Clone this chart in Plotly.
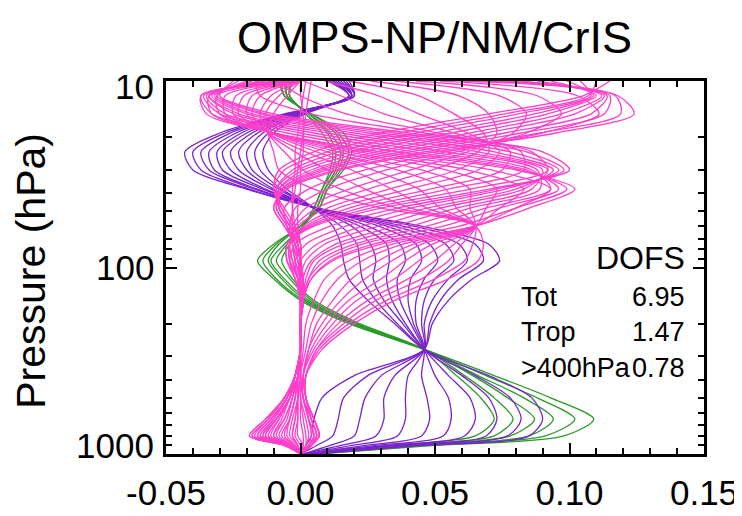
import plotly.graph_objects as go

# ---------------- data ----------------
pressure_hpa = [10, 12, 15, 19, 24, 30, 38, 48, 60, 75, 92, 115, 150, 200, 275, 380, 500, 650, 800, 900, 1000]

# lower-troposphere kernels (green)
green_kernels = [
    [-0.008, -0.006, 0.004, 0.016, 0.019, 0.016, 0.010, 0.007, 0.000, -0.010, -0.016, -0.010, 0.000, 0.018, 0.046, 0.072, 0.093, 0.109, 0.098, 0.050, 0.006],
    [-0.007, -0.006, 0.004, 0.014, 0.018, 0.015, 0.010, 0.007, 0.000, -0.009, -0.014, -0.009, 0.001, 0.019, 0.046, 0.069, 0.088, 0.102, 0.091, 0.047, 0.006],
    [-0.006, -0.005, 0.003, 0.013, 0.016, 0.014, 0.009, 0.006, 0.000, -0.008, -0.012, -0.007, 0.002, 0.020, 0.046, 0.066, 0.083, 0.094, 0.085, 0.043, 0.005],
    [-0.005, -0.005, 0.003, 0.011, 0.015, 0.013, 0.009, 0.006, 0.001, -0.006, -0.011, -0.006, 0.003, 0.020, 0.046, 0.064, 0.077, 0.087, 0.078, 0.040, 0.005],
    [-0.004, -0.004, 0.002, 0.010, 0.013, 0.012, 0.008, 0.005, 0.001, -0.005, -0.009, -0.004, 0.004, 0.021, 0.046, 0.061, 0.072, 0.079, 0.072, 0.036, 0.004],
    [-0.003, -0.004, 0.002, 0.008, 0.012, 0.011, 0.008, 0.005, 0.001, -0.004, -0.007, -0.003, 0.005, 0.022, 0.046, 0.058, 0.067, 0.072, 0.065, 0.033, 0.004],
]

# upper-troposphere kernels (purple)
purple_kernels = [
    [0.010, 0.018, 0.002, -0.010, -0.014, -0.012, -0.005, 0.005, 0.012, 0.015, 0.016, 0.018, 0.025, 0.035, 0.046, 0.070, 0.086, 0.090, 0.085, 0.045, 0.004],
    [0.011, 0.018, 0.001, -0.012, -0.017, -0.015, -0.007, 0.005, 0.015, 0.021, 0.022, 0.023, 0.028, 0.036, 0.046, 0.065, 0.078, 0.082, 0.077, 0.041, 0.004],
    [0.012, 0.018, 0.000, -0.014, -0.020, -0.018, -0.008, 0.005, 0.019, 0.026, 0.028, 0.027, 0.031, 0.038, 0.046, 0.060, 0.070, 0.073, 0.069, 0.036, 0.003],
    [0.012, 0.019, 0.000, -0.016, -0.023, -0.020, -0.010, 0.005, 0.022, 0.032, 0.033, 0.032, 0.034, 0.039, 0.046, 0.055, 0.063, 0.065, 0.061, 0.032, 0.003],
    [0.013, 0.019, -0.001, -0.018, -0.026, -0.023, -0.011, 0.005, 0.025, 0.037, 0.039, 0.036, 0.037, 0.041, 0.046, 0.050, 0.055, 0.056, 0.053, 0.028, 0.002],
    [0.014, 0.019, -0.002, -0.020, -0.029, -0.026, -0.013, 0.006, 0.029, 0.043, 0.045, 0.041, 0.040, 0.042, 0.046, 0.045, 0.047, 0.048, 0.045, 0.024, 0.002],
    [0.015, 0.019, -0.003, -0.022, -0.031, -0.029, -0.014, 0.006, 0.032, 0.048, 0.051, 0.046, 0.043, 0.043, 0.046, 0.040, 0.039, 0.039, 0.036, 0.019, 0.002],
    [0.016, 0.019, -0.004, -0.024, -0.034, -0.032, -0.016, 0.006, 0.035, 0.054, 0.057, 0.050, 0.046, 0.045, 0.046, 0.035, 0.031, 0.031, 0.028, 0.015, 0.001],
    [0.016, 0.020, -0.004, -0.026, -0.037, -0.034, -0.017, 0.006, 0.038, 0.059, 0.062, 0.055, 0.049, 0.046, 0.046, 0.030, 0.024, 0.022, 0.020, 0.011, 0.001],
    [0.017, 0.020, -0.005, -0.028, -0.040, -0.037, -0.019, 0.006, 0.042, 0.065, 0.068, 0.059, 0.052, 0.048, 0.046, 0.025, 0.016, 0.014, 0.012, 0.006, 0.000],
    [0.018, 0.020, -0.006, -0.030, -0.043, -0.040, -0.020, 0.006, 0.045, 0.070, 0.074, 0.064, 0.055, 0.049, 0.046, 0.020, 0.008, 0.005, 0.004, 0.002, 0.000],
]

# stratosphere kernels (pink)
pink_kernels = [
    [0.004, 0.003, 0.002, 0.001, 0.000, -0.001, -0.002, -0.003, -0.003, -0.002, -0.001, 0.000, 0.000, 0.000, 0.000, -0.001, -0.003, -0.006, -0.010, -0.003, 0.000],
    [0.002, 0.001, 0.000, -0.001, -0.002, -0.002, -0.003, -0.003, -0.002, -0.001, 0.000, 0.000, 0.000, 0.000, 0.000, -0.001, -0.002, -0.004, -0.007, -0.002, 0.000],
    [0.000, 0.000, 0.001, 0.001, 0.001, 0.000, 0.000, -0.001, -0.001, 0.000, 0.000, 0.000, 0.000, 0.000, 0.000, 0.000, -0.001, -0.002, -0.003, -0.001, 0.000],
    [0.115, 0.105, 0.070, 0.030, 0.005, -0.008, -0.010, -0.006, -0.002, 0.000, 0.000, 0.000, 0.000, 0.000, 0.000, -0.002, -0.004, -0.008, -0.012, -0.003, 0.000],
    [0.110, 0.107, 0.076, 0.037, 0.010, -0.006, -0.010, -0.007, -0.003, 0.000, 0.000, 0.000, 0.000, 0.000, 0.000, -0.002, -0.004, -0.009, -0.013, -0.004, 0.000],
    [0.104, 0.108, 0.081, 0.043, 0.014, -0.003, -0.009, -0.007, -0.003, 0.000, 0.000, 0.000, 0.000, 0.000, 0.000, -0.002, -0.004, -0.009, -0.013, -0.004, 0.000],
    [0.099, 0.109, 0.087, 0.050, 0.019, -0.001, -0.009, -0.008, -0.004, -0.001, 0.000, 0.000, 0.000, 0.000, 0.000, -0.002, -0.005, -0.010, -0.014, -0.004, 0.000],
    [0.093, 0.110, 0.092, 0.056, 0.023, 0.001, -0.008, -0.008, -0.004, -0.001, 0.000, 0.000, 0.000, 0.000, 0.000, -0.002, -0.005, -0.010, -0.015, -0.004, 0.000],
    [0.088, 0.112, 0.097, 0.063, 0.028, 0.004, -0.008, -0.008, -0.004, -0.001, 0.000, 0.001, 0.001, 0.000, 0.000, -0.002, -0.005, -0.011, -0.016, -0.005, 0.000],
    [0.082, 0.113, 0.102, 0.069, 0.032, 0.006, -0.007, -0.008, -0.004, -0.001, 0.000, 0.001, 0.001, 0.000, 0.000, -0.002, -0.005, -0.011, -0.016, -0.005, 0.000],
    [0.077, 0.114, 0.108, 0.076, 0.037, 0.008, -0.007, -0.009, -0.005, -0.002, 0.000, 0.001, 0.001, 0.000, 0.000, -0.002, -0.006, -0.012, -0.017, -0.005, 0.000],
    [0.071, 0.115, 0.113, 0.082, 0.041, 0.010, -0.006, -0.009, -0.005, -0.002, 0.000, 0.001, 0.001, 0.000, 0.000, -0.002, -0.006, -0.012, -0.018, -0.005, 0.000],
    [0.066, 0.117, 0.119, 0.089, 0.046, 0.013, -0.006, -0.010, -0.006, -0.002, 0.000, 0.001, 0.001, 0.000, 0.000, -0.002, -0.006, -0.013, -0.019, -0.006, 0.000],
    [0.060, 0.118, 0.124, 0.095, 0.050, 0.015, -0.005, -0.010, -0.006, -0.002, 0.000, 0.001, 0.001, 0.000, 0.000, -0.002, -0.006, -0.013, -0.019, -0.006, 0.000],
    [0.052, 0.103, 0.111, 0.090, 0.054, 0.024, 0.003, -0.006, -0.005, -0.003, -0.001, 0.001, 0.001, 0.000, 0.000, -0.002, -0.006, -0.012, -0.018, -0.006, 0.000],
    [0.043, 0.088, 0.097, 0.084, 0.058, 0.032, 0.010, -0.002, -0.004, -0.003, -0.001, 0.000, 0.001, 0.000, 0.000, -0.002, -0.005, -0.011, -0.016, -0.005, 0.000],
    [0.035, 0.074, 0.084, 0.079, 0.062, 0.041, 0.018, 0.002, -0.003, -0.003, -0.002, 0.000, 0.001, 0.000, 0.000, -0.002, -0.005, -0.010, -0.015, -0.005, 0.000],
    [0.026, 0.059, 0.070, 0.073, 0.066, 0.049, 0.025, 0.006, -0.002, -0.003, -0.002, 0.000, 0.001, 0.000, 0.000, -0.002, -0.004, -0.009, -0.014, -0.004, 0.000],
    [0.018, 0.044, 0.057, 0.068, 0.070, 0.058, 0.033, 0.010, -0.001, -0.004, -0.003, -0.001, 0.001, 0.000, 0.000, -0.002, -0.004, -0.009, -0.013, -0.004, 0.000],
    [0.009, 0.029, 0.044, 0.062, 0.074, 0.066, 0.040, 0.014, 0.001, -0.004, -0.003, -0.001, 0.000, 0.000, 0.000, -0.001, -0.004, -0.008, -0.011, -0.004, 0.000],
    [0.001, 0.015, 0.031, 0.057, 0.078, 0.075, 0.048, 0.018, 0.002, -0.004, -0.004, -0.001, 0.000, 0.000, 0.000, -0.001, -0.004, -0.007, -0.010, -0.004, 0.000],
    [-0.008, 0.000, 0.017, 0.051, 0.082, 0.083, 0.055, 0.022, 0.003, -0.004, -0.004, -0.001, 0.000, 0.000, 0.000, -0.001, -0.003, -0.006, -0.009, -0.003, 0.000],
    [-0.017, -0.015, 0.004, 0.046, 0.086, 0.092, 0.063, 0.026, 0.004, -0.005, -0.005, -0.002, 0.000, 0.000, 0.000, -0.001, -0.003, -0.005, -0.008, -0.003, 0.000],
    [-0.025, -0.030, -0.010, 0.040, 0.090, 0.100, 0.070, 0.030, 0.005, -0.005, -0.005, -0.002, 0.000, 0.000, 0.000, -0.001, -0.002, -0.004, -0.006, -0.002, 0.000],
    [-0.023, -0.031, -0.013, 0.035, 0.084, 0.098, 0.073, 0.036, 0.011, -0.002, -0.004, -0.002, 0.000, 0.000, 0.000, -0.001, -0.002, -0.004, -0.005, -0.002, 0.000],
    [-0.020, -0.031, -0.015, 0.030, 0.078, 0.096, 0.076, 0.041, 0.017, 0.002, -0.002, -0.001, 0.000, 0.000, 0.000, -0.001, -0.001, -0.003, -0.004, -0.001, 0.000],
    [-0.018, -0.032, -0.018, 0.025, 0.072, 0.094, 0.080, 0.047, 0.023, 0.006, 0.000, -0.001, 0.000, 0.000, 0.000, -0.001, -0.001, -0.002, -0.003, -0.001, 0.000],
    [-0.015, -0.033, -0.020, 0.020, 0.066, 0.092, 0.083, 0.052, 0.029, 0.009, 0.002, 0.000, 0.000, 0.000, 0.000, -0.001, -0.001, -0.001, -0.002, 0.000, 0.000],
    [-0.013, -0.034, -0.023, 0.015, 0.060, 0.090, 0.086, 0.058, 0.035, 0.013, 0.004, 0.001, 0.001, 0.000, 0.000, -0.001, -0.001, -0.001, -0.001, 0.001, 0.000],
    [-0.010, -0.034, -0.025, 0.010, 0.054, 0.088, 0.089, 0.063, 0.041, 0.016, 0.005, 0.002, 0.001, 0.000, 0.000, 0.000, 0.000, 0.000, 0.001, 0.001, 0.000],
    [-0.008, -0.035, -0.028, 0.005, 0.048, 0.086, 0.093, 0.069, 0.047, 0.020, 0.007, 0.003, 0.001, 0.000, 0.000, 0.000, 0.000, 0.001, 0.002, 0.002, 0.000],
    [-0.005, -0.036, -0.030, 0.000, 0.042, 0.084, 0.096, 0.074, 0.053, 0.023, 0.009, 0.003, 0.001, 0.000, 0.000, 0.000, 0.000, 0.002, 0.003, 0.002, 0.000],
    [-0.003, -0.037, -0.033, -0.005, 0.036, 0.082, 0.099, 0.080, 0.059, 0.027, 0.011, 0.004, 0.001, 0.000, 0.000, 0.000, 0.001, 0.003, 0.004, 0.003, 0.000],
    [0.000, -0.037, -0.035, -0.010, 0.030, 0.080, 0.102, 0.085, 0.065, 0.030, 0.012, 0.004, 0.001, 0.000, 0.000, 0.000, 0.001, 0.003, 0.005, 0.003, 0.000],
    [0.000, -0.034, -0.033, -0.010, 0.026, 0.071, 0.093, 0.080, 0.065, 0.034, 0.018, 0.009, 0.005, 0.002, 0.001, 0.000, 0.001, 0.003, 0.005, 0.003, 0.000],
    [0.000, -0.031, -0.030, -0.010, 0.022, 0.062, 0.083, 0.074, 0.065, 0.038, 0.023, 0.014, 0.008, 0.004, 0.002, 0.000, 0.001, 0.003, 0.005, 0.003, 0.000],
    [0.000, -0.028, -0.028, -0.011, 0.018, 0.054, 0.073, 0.069, 0.065, 0.042, 0.029, 0.019, 0.012, 0.006, 0.003, 0.001, 0.001, 0.004, 0.006, 0.003, 0.000],
    [0.000, -0.024, -0.025, -0.011, 0.014, 0.045, 0.063, 0.063, 0.065, 0.045, 0.034, 0.024, 0.015, 0.008, 0.003, 0.001, 0.001, 0.004, 0.006, 0.003, 0.000],
    [0.000, -0.021, -0.023, -0.011, 0.010, 0.036, 0.054, 0.058, 0.065, 0.049, 0.039, 0.030, 0.018, 0.010, 0.004, 0.001, 0.002, 0.004, 0.006, 0.004, 0.000],
    [0.000, -0.018, -0.020, -0.011, 0.006, 0.027, 0.044, 0.052, 0.065, 0.053, 0.044, 0.035, 0.021, 0.012, 0.005, 0.001, 0.002, 0.004, 0.006, 0.004, 0.000],
    [0.000, -0.015, -0.018, -0.012, 0.002, 0.019, 0.034, 0.047, 0.065, 0.057, 0.050, 0.040, 0.025, 0.014, 0.006, 0.002, 0.002, 0.005, 0.007, 0.004, 0.000],
    [0.000, -0.011, -0.015, -0.012, -0.002, 0.010, 0.024, 0.041, 0.065, 0.060, 0.055, 0.045, 0.028, 0.016, 0.006, 0.002, 0.002, 0.005, 0.007, 0.004, 0.000],
    [0.000, -0.008, -0.013, -0.012, -0.006, 0.001, 0.015, 0.036, 0.065, 0.064, 0.061, 0.050, 0.032, 0.018, 0.007, 0.002, 0.002, 0.005, 0.007, 0.004, 0.000],
    [0.000, -0.005, -0.010, -0.012, -0.010, -0.008, 0.005, 0.030, 0.065, 0.068, 0.066, 0.055, 0.035, 0.020, 0.008, 0.002, 0.002, 0.005, 0.007, 0.004, 0.000],
]

x_tick_values = [-0.05, 0.0, 0.05, 0.10, 0.15]
x_tick_labels = ["-0.05", "0.00", "0.05", "0.10", "0.15"]
y_tick_values = [10, 100, 1000]
y_tick_labels = ["10", "100", "1000"]
y_minor_values = [20, 30, 40, 50, 60, 70, 80, 90, 200, 300, 400, 500, 600, 700, 800, 900]

title_text = "OMPS-NP/NM/CrIS"
y_title_text = "Pressure (hPa)"
dofs_header = "DOFS"
dofs_names = ["Tot", "Trop", ">400hPa"]
dofs_values = ["6.95", "1.47", "0.78"]

# ---------------- styling ----------------
GREEN = "#2B9A2B"
PURPLE = "#7A22CC"
PINK = "#FF3FCB"
FONT = "Liberation Sans, Arial, Helvetica, sans-serif"

fig = go.Figure()
for family, color in [(green_kernels, GREEN), (purple_kernels, PURPLE), (pink_kernels, PINK)]:
    for row in family:
        fig.add_trace(go.Scatter(
            x=row, y=pressure_hpa, mode="lines",
            line=dict(color=color, width=1.3, shape="spline", smoothing=0.8),
            showlegend=False, hoverinfo="skip",
        ))

fig.update_layout(
    width=742, height=516,
    margin=dict(l=158, r=39, t=73, b=54),
    paper_bgcolor="white", plot_bgcolor="white",
    font=dict(family=FONT, color="black"),
    showlegend=False,
)

fig.update_xaxes(
    range=[-0.05, 0.15],
    tickmode="array", tickvals=x_tick_values, ticktext=x_tick_labels,
    ticks="inside", ticklen=11, tickwidth=2, tickcolor="black",
    showline=True, linewidth=3, linecolor="black", mirror="ticks",
    showgrid=False, zeroline=False,
    tickfont=dict(size=35, family=FONT, color="black"),
    ticklabelstandoff=6,
    minor=dict(dtick=0.01, tick0=0, ticks="inside", ticklen=6, tickwidth=2,
               tickcolor="black", showgrid=False),
)

fig.update_yaxes(
    type="log", range=[3, 1],
    tickmode="array", tickvals=y_tick_values, showticklabels=False,
    ticks="inside", ticklen=11, tickwidth=2, tickcolor="black",
    showline=True, linewidth=3, linecolor="black", mirror="ticks",
    showgrid=False, zeroline=False,
    minor=dict(tickmode="array", tickvals=y_minor_values, ticks="inside", ticklen=6,
               tickwidth=2, tickcolor="black", showgrid=False),
)

annotations = []
y_shifts = [-5, 0, 9]
for k, (lab, ys) in enumerate(zip(y_tick_labels, y_shifts)):
    annotations.append(dict(
        text=lab, xref="paper", yref="y", x=-0.018, y=k + 1,
        xanchor="right", yanchor="middle", yshift=ys, showarrow=False,
        font=dict(size=35, family=FONT, color="black"),
    ))

annotations.append(dict(
    text=title_text, xref="paper", yref="paper", x=0.499, y=1.116,
    xanchor="center", yanchor="middle", showarrow=False,
    font=dict(size=45, family=FONT, color="black"),
))
annotations.append(dict(
    text=y_title_text, xref="paper", yref="paper", x=-0.25, y=0.49,
    xanchor="center", yanchor="middle", textangle=-90, showarrow=False,
    font=dict(size=41, family=FONT, color="black"),
))
annotations.append(dict(
    text=dofs_header, xref="paper", yref="paper", x=0.9688, y=0.5244,
    xanchor="right", yanchor="middle", showarrow=False,
    font=dict(size=32, family=FONT, color="black"),
))
row_y = [0.4216, 0.3265, 0.2314]
for name, val, ry in zip(dofs_names, dofs_values, row_y):
    annotations.append(dict(
        text=name, xref="paper", yref="paper", x=0.657, y=ry,
        xanchor="left", yanchor="middle", showarrow=False,
        font=dict(size=27, family=FONT, color="black"),
    ))
    annotations.append(dict(
        text=val, xref="paper", yref="paper", x=0.9688, y=ry,
        xanchor="right", yanchor="middle", showarrow=False,
        font=dict(size=27, family=FONT, color="black"),
    ))

fig.update_layout(annotations=annotations)
fig.write_html("out.html")
